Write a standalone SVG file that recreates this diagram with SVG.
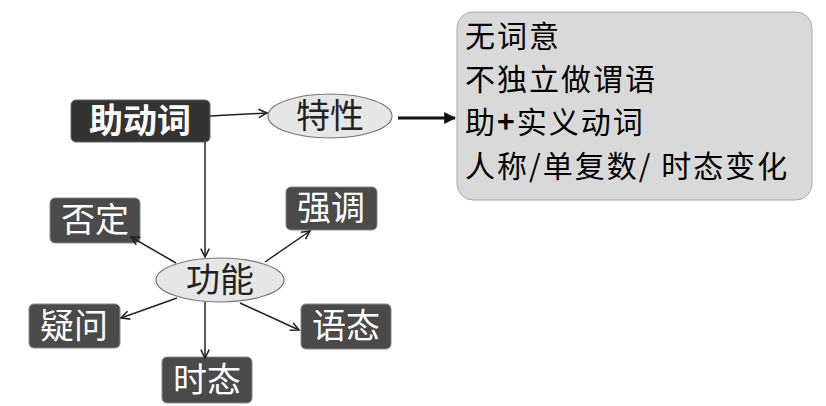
<svg xmlns="http://www.w3.org/2000/svg" width="826" height="406" viewBox="0 0 826 406">
<defs>
<marker id="a" viewBox="0 0 10 10" refX="9" refY="5" markerWidth="7" markerHeight="7" orient="auto"><path d="M1,1 L9,5 L1,9" fill="none" stroke="#222" stroke-width="1.5"/></marker>
<marker id="b" viewBox="0 0 10 10" refX="9" refY="5" markerWidth="4" markerHeight="4" orient="auto"><path d="M0,0 L10,5 L0,10 z" fill="#111"/></marker>
</defs>
<style>
text{font-family:"Noto Sans CJK SC","Liberation Sans",sans-serif}
.box{fill:#4a4a4a;stroke:#888;stroke-width:1}
.bt{fill:#fff;font-size:34px;text-anchor:middle}
.el{fill:#e6e6e6;stroke:#777;stroke-width:1.2}
.et{fill:#222;font-size:34px;text-anchor:middle}
.c{stroke:#222;stroke-width:1.5;fill:none;marker-end:url(#a)}
.rt{fill:#000;font-size:30px;letter-spacing:2px}
</style>
<rect width="826" height="406" fill="#fff"/>
<g id="n-main"><rect x="71" y="100" width="139" height="42" rx="5" fill="#333" stroke="#666"/><text class="bt" x="140" y="133" font-weight="bold">助动词</text></g>
<g id="n-texing"><ellipse class="el" cx="330" cy="116" rx="62" ry="22"/><text class="et" x="330" y="128">特性</text></g>
<g id="n-gongneng"><ellipse class="el" cx="220" cy="280" rx="64" ry="22"/><text class="et" x="220" y="292">功能</text></g>
<g id="n-fouding"><rect class="box" x="50" y="198" width="90" height="45" rx="5"/><text class="bt" x="95" y="232">否定</text></g>
<g id="n-qiangdiao"><rect class="box" x="286" y="187" width="91" height="43" rx="5"/><text class="bt" x="331" y="220">强调</text></g>
<g id="n-yiwen"><rect class="box" x="29" y="304" width="91" height="44" rx="5"/><text class="bt" x="74" y="338">疑问</text></g>
<g id="n-yutai"><rect class="box" x="301" y="304" width="90" height="45" rx="5"/><text class="bt" x="346" y="338">语态</text></g>
<g id="n-shitai"><rect class="box" x="162" y="357" width="90" height="46" rx="5"/><text class="bt" x="207" y="392">时态</text></g>
<g id="n-props"><rect x="457" y="12" width="355" height="188" rx="16" fill="#d9d9d9" stroke="#aaa"/>
<text class="rt" x="465" y="47">无词意</text>
<text class="rt" x="465" y="90">不独立做谓语</text>
<text class="rt" x="465" y="133">助<tspan font-weight="bold">+</tspan>实义动词</text>
<text class="rt" x="465" y="177">人称/单复数/ 时态变化</text>
</g>
<g id="connectors">
<line class="c" x1="210" y1="116" x2="267" y2="113"/>
<line class="c" x1="205" y1="142" x2="205" y2="257"/>
<line class="c" x1="176" y1="263" x2="131" y2="237"/>
<line class="c" x1="265" y1="262" x2="310" y2="231"/>
<line class="c" x1="177" y1="298" x2="121" y2="318"/>
<line class="c" x1="240" y1="303" x2="299" y2="330"/>
<line class="c" x1="205" y1="302" x2="205" y2="358"/>
<line x1="398" y1="118" x2="455" y2="118" stroke="#111" stroke-width="3" marker-end="url(#b)"/>
</g>
</svg>
